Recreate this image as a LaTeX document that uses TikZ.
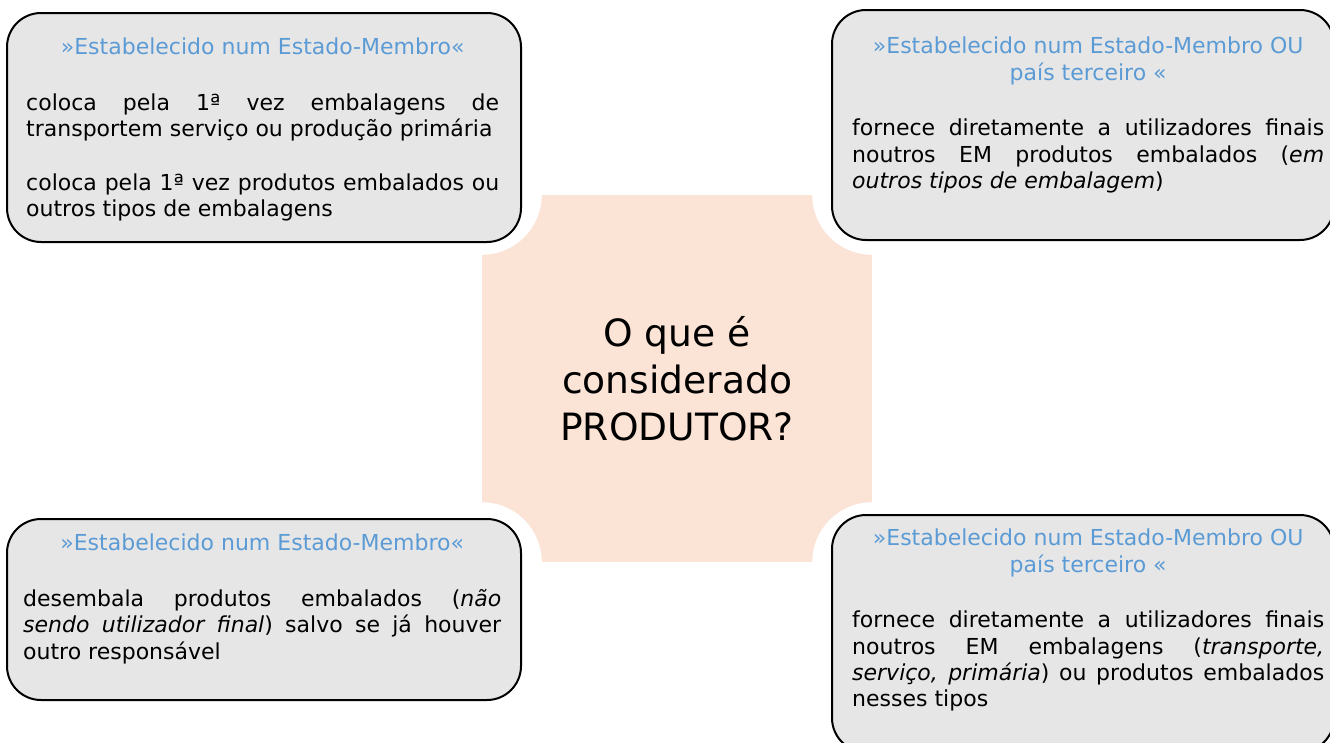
\documentclass[tikz,border=0pt]{standalone}
\usepackage{fontspec}
\setmainfont{DejaVu Sans}
\usepackage{xcolor}
\usetikzlibrary{positioning}
\definecolor{boxgray}{HTML}{E7E6E6}
\definecolor{peach}{HTML}{FBE3D6}
\definecolor{ttlblue}{HTML}{5B9BD5}
\hyphenpenalty=10000
\exhyphenpenalty=10000
\newcommand{\boxtitle}[1]{{\centering\color{ttlblue}#1\par}\vspace{29pt}}

\begin{document}
\begin{tikzpicture}[x=1pt,y=-1pt,
    pbox/.style={draw=black, line width=2pt, fill=boxgray, rounded corners=34pt},
    ptext/.style={inner sep=0pt, align=justify, font=\fontsize{22}{26.4}\selectfont},
    hub/.style={fill=peach, minimum width=390pt, minimum height=367pt, align=center,
        font=\fontsize{37.6}{47}\selectfont}]
    \useasboundingbox (0,0) rectangle (1330,742);

    % centre
    \node[hub] (hub) at (677,378.5) {O que é\\considerado\\PRODUTOR?};
    \foreach \c in {north west, north east, south west, south east}
        \fill[white] (hub.\c) circle[radius=60pt];

    % boxes
    \node[pbox, minimum width=514pt, minimum height=229pt] (tl-box) at (264,127.5) {};
    \node[pbox, minimum width=502pt, minimum height=230pt] (tr-box) at (1083,125) {};
    \node[pbox, minimum width=514pt, minimum height=181pt] (bl-box) at (264,609.5) {};
    \node[pbox, minimum width=502pt, minimum height=237pt] (br-box) at (1083,633.5) {};

    % texts
    \node[ptext, text width=473pt, below right=26pt and 20pt of tl-box.north west] (tl-txt) {%
        \boxtitle{»Estabelecido num Estado-Membro«}
        coloca pela 1ª vez embalagens de\linebreak transportem serviço ou produção primária\par\vspace{27pt}
        coloca pela 1ª vez produtos embalados ou\linebreak outros tipos de embalagens};
    \node[ptext, text width=472pt, below right=28pt and 21pt of tr-box.north west] (tr-txt) {%
        \boxtitle{»Estabelecido num Estado-Membro OU\\país terceiro «}
        fornece diretamente a utilizadores finais\linebreak noutros EM produtos embalados (\textit{em}\linebreak \textit{outros tipos de embalagem})};
    \node[ptext, text width=478pt, below right=16pt and 17pt of bl-box.north west] (bl-txt) {%
        \boxtitle{»Estabelecido num Estado-Membro«}
        desembala produtos embalados (\textit{não}\linebreak \textit{sendo utilizador final}) salvo se já houver\linebreak outro responsável};
    \node[ptext, text width=472pt, below right=15pt and 21pt of br-box.north west] (br-txt) {%
        \boxtitle{»Estabelecido num Estado-Membro OU\\país terceiro «}
        fornece diretamente a utilizadores finais\linebreak noutros EM embalagens (\textit{transporte,}\linebreak \textit{serviço, primária}) ou produtos embalados\linebreak nesses tipos};
\end{tikzpicture}
\end{document}
